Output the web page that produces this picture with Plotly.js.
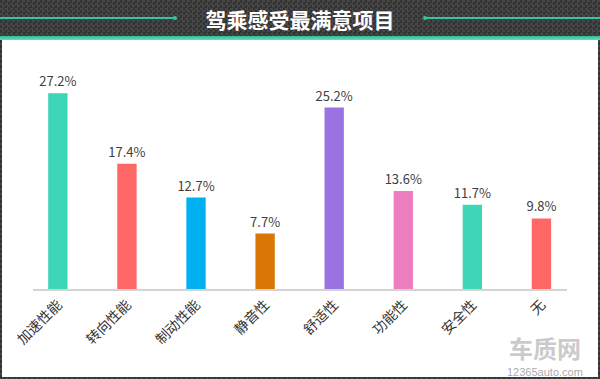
<!DOCTYPE html>
<html>
<head>
<meta charset="utf-8">
<script src="https://cdn.plot.ly/plotly-3.0.1.min.js"></script>
<style>
  html, body { margin: 0; padding: 0; }
  #wrap { position: relative; width: 600px; height: 379px; overflow: hidden;
    background-color: #3a3a3a;
    background-image: conic-gradient(#474747 25%, #333333 0 50%, #474747 0 75%, #333333 0);
    background-size: 5px 5px; }
  #panel { position: absolute; left: 2px; right: 2px; top: 40px; bottom: 2px; background: #ffffff; }
  #band { position: absolute; left: 0; right: 0; top: 36px; height: 4px;
    background: linear-gradient(#2fb994, #5fe0c4); }
  .hl { position: absolute; top: 17px; height: 2px; background: #33c4a0; }
  .dot { position: absolute; top: 16px; width: 4px; height: 4px; border-radius: 2px; background: #33c4a0; }
  #chart { position: absolute; left: 0; top: 0; width: 600px; height: 379px; }
</style>
</head>
<body>
<div id="wrap">
  <div id="panel"></div>
  <div id="band"></div>
  <div class="hl" style="left:0; width:175px;"></div>
  <div class="dot" style="left:173px;"></div>
  <div class="hl" style="left:425px; width:175px;"></div>
  <div class="dot" style="left:423px;"></div>
  <div id="chart"></div>
</div>
<script>
const categories = ["加速性能", "转向性能", "制动性能", "静音性", "舒适性", "功能性", "安全性", "无"];
const values = [27.2, 17.4, 12.7, 7.7, 25.2, 13.6, 11.7, 9.8];
const labels = ["27.2%", "17.4%", "12.7%", "7.7%", "25.2%", "13.6%", "11.7%", "9.8%"];
const colors = ["#3dd6b6", "#ff6666", "#00b0f0", "#d97706", "#9b72e2", "#ee7dbf", "#3dd6b6", "#ff6666"];
const chartTitle = "驾乘感受最满意项目";

const trace = {
  type: "bar",
  x: categories,
  y: values,
  text: labels,
  textposition: "outside",
  constraintext: "none",
  cliponaxis: false,
  textfont: { family: "Noto Sans CJK SC, Noto Sans, sans-serif", size: 13, color: "#404040" },
  marker: { color: colors },
  width: 0.28,
  hoverinfo: "none"
};

const layout = {
  width: 600, height: 379,
  margin: { l: 33, r: 33, t: 73, b: 90 },
  paper_bgcolor: "rgba(0,0,0,0)",
  plot_bgcolor: "rgba(0,0,0,0)",
  showlegend: false,
  title: {
    text: "<b>" + chartTitle + "</b>",
    x: 0.5, xref: "container", xanchor: "center",
    y: 1 - 21/379, yref: "container", yanchor: "middle",
    font: { family: "Noto Sans CJK SC, sans-serif", size: 21, color: "#ffffff" }
  },
  xaxis: {
    type: "category",
    range: [-0.36, 7.37],
    showline: true, linecolor: "#d4d4d4", linewidth: 2,
    showgrid: false, zeroline: false,
    ticks: "", tickangle: -45,
    tickfont: { family: "Noto Sans CJK SC, sans-serif", size: 14, color: "#333333" }
  },
  yaxis: {
    range: [0, 30],
    visible: false, showgrid: false, zeroline: false
  },
  annotations: [
    { text: "<b>车质网</b>", xref: "paper", yref: "paper", x: (545 - 33)/534, y: (289 - 347)/216,
      showarrow: false, xanchor: "center", yanchor: "middle",
      font: { family: "Noto Sans CJK SC, sans-serif", size: 24, color: "rgba(150,150,150,0.5)" } },
    { text: "12365auto.com", xref: "paper", yref: "paper", x: (545 - 33)/534, y: (289 - 372)/216,
      showarrow: false, xanchor: "center", yanchor: "middle",
      font: { family: "Arial, Liberation Sans, sans-serif", size: 11, color: "rgba(140,140,140,0.75)" } }
  ]
};

Plotly.newPlot("chart", [trace], layout, { displayModeBar: false, staticPlot: true });
</script>
</body>
</html>
